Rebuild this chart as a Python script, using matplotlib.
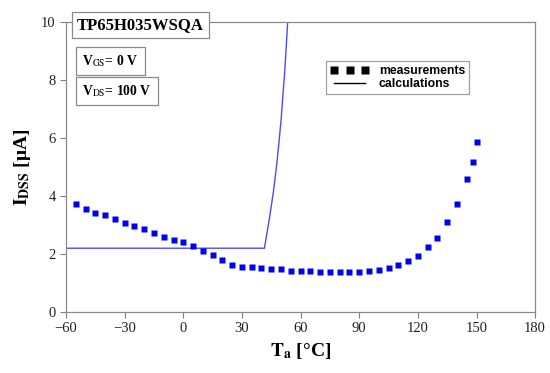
import numpy as np
import matplotlib
matplotlib.use("Agg")
import matplotlib.pyplot as plt

plt.rcParams['font.family'] = ['Liberation Serif', 'DejaVu Serif']
plt.rcParams['mathtext.fontset'] = 'stix'

#### DATA
# measured leakage current
temp_meas = [-55, -50, -45, -40, -35, -30, -25, -20, -15, -10, -5, 0, 5, 10, 15, 20,
             25, 30, 35, 40, 45, 50, 55, 60, 65, 70, 75, 80, 85, 90, 95, 100,
             105, 110, 115, 120, 125, 130, 135, 140, 145, 148, 150]
idss_meas = [3.72, 3.54, 3.43, 3.36, 3.22, 3.08, 2.97, 2.85, 2.74, 2.59, 2.48, 2.40,
             2.26, 2.09, 1.95, 1.79, 1.63, 1.56, 1.54, 1.52, 1.50, 1.47, 1.43, 1.43,
             1.40, 1.38, 1.38, 1.37, 1.38, 1.38, 1.41, 1.44, 1.53, 1.61, 1.77, 1.93,
             2.25, 2.56, 3.11, 3.73, 4.59, 5.18, 5.87]
# calculated curve
temp_calc = [-60, 41.5, 42.5, 44, 46, 48, 50, 52, 53.4]
idss_calc = [2.2, 2.2, 2.6, 3.2, 4.1, 5.2, 6.6, 8.4, 10.0]

xticks = [-60, -30, 0, 30, 60, 90, 120, 150, 180]
yticks = [0, 2, 4, 6, 8, 10]

#### PLOT
fig = plt.figure(figsize=(5.5, 3.73), dpi=100)
ax = fig.add_axes([0.12, 0.1635, 0.853, 0.7775])

ax.plot(temp_calc, idss_calc, '-', color='#4a4aff', lw=1.0)
ax.plot(temp_meas, idss_meas, 's', color='#0000ee', ms=4.3, mec='none', clip_on=False)

ax.set_xlim(-60, 180)
ax.set_ylim(0, 10)
ax.set_xticks(xticks)
ax.set_yticks(yticks)
ax.set_xticklabels([str(t).replace('-', '\u2212') for t in xticks])
ax.tick_params(labelsize=10.5, colors='#808080', labelcolor='#222222', length=4, width=0.8)
for s in ax.spines.values():
    s.set_color('#8a8a8a')
    s.set_linewidth(0.9)

ax.set_xlabel(r'$\mathbf{T}_{\mathbf{a}}$ [°C]', fontsize=14, fontweight='bold', labelpad=4)
ax.set_ylabel(r'$\mathbf{I}_{\mathbf{DSS}}$ [μA]', fontsize=14, fontweight='bold', labelpad=6)

# text boxes
fig.text(0.140, 0.932, 'TP65H035WSQA', fontsize=12, fontweight='bold', va='center',
         bbox=dict(boxstyle='square,pad=0.3', fc='white', ec='#8a8a8a', lw=0.9))
fig.text(0.150, 0.836, r'V$_{\mathrm{GS}}$= 0 V', fontsize=9.8, fontweight='bold', va='center',
         bbox=dict(boxstyle='square,pad=0.45', fc='white', ec='#8a8a8a', lw=0.9))
fig.text(0.150, 0.757, r'V$_{\mathrm{DS}}$= 100 V', fontsize=9.8, fontweight='bold', va='center',
         bbox=dict(boxstyle='square,pad=0.45', fc='white', ec='#8a8a8a', lw=0.9))

# legend drawn with black proxies
h1, = ax.plot([], [], 's', color='black', ms=6, mec='none')
h2, = ax.plot([], [], '-', color='black', lw=1.0)
leg = ax.legend([h1, h2], ['measurements', 'calculations'], loc='upper left',
                bbox_to_anchor=(0.555, 0.865), numpoints=3, handlelength=3.2,
                prop={'family': 'Liberation Sans', 'weight': 'bold', 'size': 8.8},
                frameon=True, fancybox=False, borderpad=0.3, labelspacing=0.1,
                handletextpad=0.8, borderaxespad=0)
leg.get_frame().set_edgecolor('#8a8a8a')
leg.get_frame().set_linewidth(0.9)

fig.savefig('out.png', dpi=100)
